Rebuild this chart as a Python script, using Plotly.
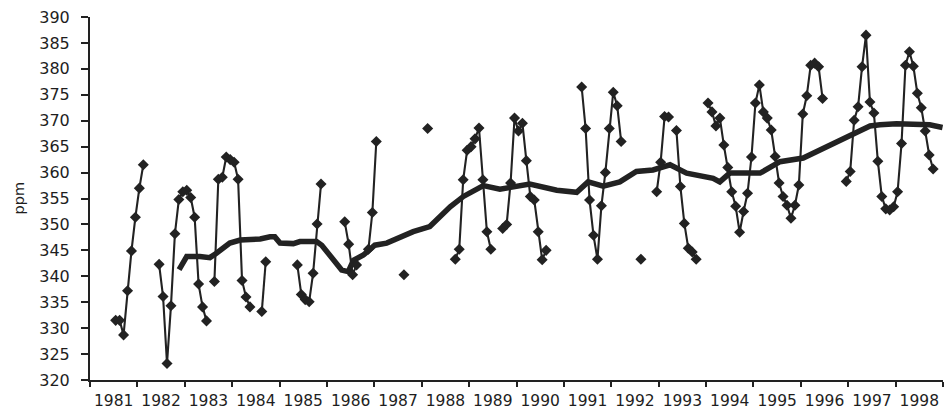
import plotly.graph_objects as go

# Monthly CO2 concentration (ppm), Jan 1981 .. Dec 1998 (None = no data)
years = list(range(1981, 1999))
monthly_ppm = [
    # 1981
    None, None, None, None, None, None, 331.5, 331.5, 328.7, 337.2, 344.9, 351.4,
    # 1982
    357.0, 361.5, None, None, None, 342.3, 336.1, 323.2, 334.3, 348.2, 354.8, 356.3,
    # 1983
    356.6, 355.2, 351.4, 338.5, 334.1, 331.4, None, 339.0, 358.7, 359.1, 363.0, 362.5,
    # 1984
    362.0, 358.7, 339.2, 336.0, 334.1, None, None, 333.2, 342.8, None, None, None,
    # 1985
    None, None, None, None, 342.2, 336.5, 335.5, 335.1, 340.6, 350.1, 357.8, None,
    # 1986
    None, None, None, None, 350.5, 346.2, 340.3, 342.2, None, None, 345.2, 352.3,
    # 1987
    366.0, None, None, None, None, None, None, 340.3, None, None, None, None,
    # 1988
    None, 368.5, None, None, None, None, None, None, 343.3, 345.2, 358.6, 364.3,
    # 1989
    365.0, 366.5, 368.6, 358.6, 348.6, 345.2, None, None, 349.2, 350.0, 358.0, 370.5,
    # 1990
    368.0, 369.5, 362.3, 355.4, 354.7, 348.6, 343.2, 345.0, None, None, None, None,
    # 1991
    None, None, None, None, 376.5, 368.5, 354.7, 347.9, 343.3, 353.6, 360.0, 368.5,
    # 1992
    375.5, 372.9, 366.0, None, None, None, None, 343.3, None, None, None, 356.3,
    # 1993
    362.0, 370.8, 370.7, None, 368.1, 357.3, 350.2, 345.4, 344.7, 343.3, None, None,
    # 1994
    373.4, 371.7, 369.0, 370.5, 365.3, 361.0, 356.3, 353.5, 348.5, 352.5, 356.0, 363.0,
    # 1995
    373.4, 376.9, 371.7, 370.5, 368.2, 363.1, 358.0, 355.4, 353.7, 351.2, 353.7, 357.6,
    # 1996
    371.3, 374.8, 380.7, 381.1, 380.4, 374.3, None, None, None, None, None, 358.3,
    # 1997
    360.2, 370.1, 372.7, 380.4, 386.5, 373.6, 371.5, 362.2, 355.4, 353.0, 352.8, 353.4,
    # 1998
    356.3, 365.6, 380.7, 383.3, 380.5, 375.3, 372.5, 368.0, 363.4, 360.7, None, None,
]

# Smoothed (running mean) curve, read at points along the curve
smooth_year = [1982.88, 1983.04, 1983.32, 1983.53, 1983.66, 1983.81, 1983.95, 1984.17,
               1984.59, 1984.80, 1984.90, 1985.01, 1985.29, 1985.43, 1985.78, 1985.89,
               1986.10, 1986.31, 1986.45, 1986.56, 1986.77, 1987.01, 1987.26, 1987.54,
               1987.82, 1988.17, 1988.38, 1988.60, 1988.88, 1989.30, 1989.65, 1990.28,
               1990.85, 1991.27, 1991.51, 1991.83, 1992.18, 1992.53, 1992.88, 1993.24,
               1993.59, 1994.15, 1994.29, 1994.50, 1995.14, 1995.56, 1996.05, 1996.54,
               1997.10, 1997.46, 1997.67, 1998.02, 1998.72, 1998.99]
smooth_ppm = [341.3, 343.8, 343.8, 343.6, 344.4, 345.4, 346.4, 347.0,
              347.2, 347.6, 347.6, 346.4, 346.3, 346.7, 346.7, 346.0,
              343.8, 341.2, 340.9, 343.1, 344.1, 346.0, 346.4, 347.6,
              348.6, 349.6, 351.5, 353.4, 355.4, 357.5, 356.8, 357.8,
              356.6, 356.2, 358.2, 357.4, 358.2, 360.2, 360.5, 361.5,
              359.9, 358.9, 358.2, 359.9, 359.9, 362.1, 362.8, 365.0,
              367.4, 369.0, 369.2, 369.4, 369.2, 368.7]

y_ticks = list(range(320, 391, 5))

month_x = [1981 + (i + 0.5) / 12 for i in range(len(monthly_ppm))]

INK = "#222222"
TXT = "#1e1e1e"
FONT = "DejaVu Sans"

fig = go.Figure()
fig.add_trace(go.Scatter(
    x=smooth_year, y=smooth_ppm, mode="lines",
    line=dict(color=INK, width=5.5),
    hoverinfo="skip", showlegend=False,
))
fig.add_trace(go.Scatter(
    x=month_x, y=monthly_ppm, mode="lines+markers", connectgaps=False,
    line=dict(color=INK, width=2.1),
    marker=dict(symbol="diamond", size=8.5, color=INK),
    showlegend=False,
))

fig.update_layout(
    width=944, height=409,
    margin=dict(l=90, r=1, t=17, b=29, autoexpand=False),
    paper_bgcolor="white", plot_bgcolor="white",
    font=dict(family=FONT, size=16, color=TXT),
    xaxis=dict(
        range=[1981, 1999], showgrid=False, zeroline=False,
        showline=True, linecolor=INK, linewidth=2,
        tickmode="array",
        tickvals=[y + 0.5 for y in years],
        ticktext=[str(y) for y in years],
        ticks="", ticklabelstandoff=5,
        tickfont=dict(family=FONT, size=15.5, color=TXT),
        minor=dict(tickmode="array", tickvals=years + [1999], ticks="outside",
                   ticklen=5, tickwidth=1.5, tickcolor=INK, showgrid=False),
        fixedrange=True,
    ),
    yaxis=dict(
        range=[320, 390], showgrid=False, zeroline=False,
        showline=True, linecolor=INK, linewidth=2,
        tickmode="array", tickvals=y_ticks,
        ticks="outside", ticklen=7, tickwidth=1.5, tickcolor=INK,
        ticklabelstandoff=8,
        tickfont=dict(family=FONT, size=16, color=TXT),
        fixedrange=True,
    ),
    annotations=[dict(
        text="ppm", xref="paper", yref="paper",
        x=(18 - 90) / 853, y=0.5, textangle=-90, showarrow=False,
        xanchor="center", yanchor="middle",
        font=dict(family=FONT, size=14.5, color=TXT),
    )],
)

fig.write_html("out.html")
